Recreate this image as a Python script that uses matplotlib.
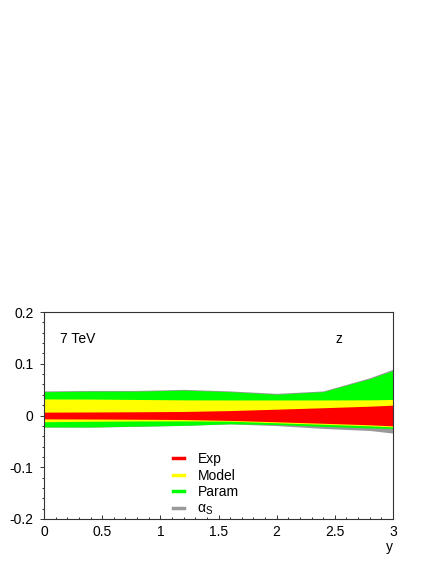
import matplotlib
matplotlib.use("Agg")
import matplotlib.pyplot as plt
from matplotlib.lines import Line2D
from matplotlib.ticker import MultipleLocator
import numpy as np

plt.rcParams["font.family"] = ["Liberation Sans", "DejaVu Sans"]
plt.rcParams["mathtext.fontset"] = "custom"
plt.rcParams["mathtext.rm"] = "Liberation Sans"
plt.rcParams["mathtext.it"] = "Liberation Sans"

# ── band edges vs rapidity y ────────────────────────────────────────────
y_pts = [0.0, 0.4, 0.8, 1.2, 1.6, 2.0, 2.4, 2.8, 3.0]

exp_up = [0.0065, 0.0068, 0.0072, 0.0078, 0.0095, 0.0122, 0.0150, 0.0180, 0.0200]
exp_dn = [-0.0065, -0.0068, -0.0072, -0.0078, -0.0095, -0.0122, -0.0150, -0.0180, -0.0200]

model_up = [0.0320, 0.0318, 0.0310, 0.0302, 0.0300, 0.0300, 0.0300, 0.0302, 0.0310]
model_dn = [-0.0120, -0.0112, -0.0106, -0.0105, -0.0110, -0.0140, -0.0170, -0.0200, -0.0220]

param_up = [0.0460, 0.0470, 0.0470, 0.0490, 0.0460, 0.0410, 0.0460, 0.0710, 0.0870]
param_dn = [-0.0220, -0.0222, -0.0205, -0.0190, -0.0160, -0.0175, -0.0210, -0.0240, -0.0250]

alphas_up = [0.0475, 0.0485, 0.0485, 0.0505, 0.0475, 0.0428, 0.0475, 0.0730, 0.0895]
alphas_dn = [-0.0225, -0.0225, -0.0210, -0.0192, -0.0162, -0.0195, -0.0250, -0.0290, -0.0340]

labels = ["Exp", "Model", "Param", r"α$_\mathrm{S}$"]
colors = ["#ff0000", "#ffff00", "#00ff00", "#999999"]

fig = plt.figure(figsize=(4.36, 5.64), dpi=100)
ax = fig.add_axes([44 / 436, 45 / 564, 349 / 436, 207 / 564])

x = np.array(y_pts)
ax.fill_between(x, alphas_dn, alphas_up, color=colors[3], lw=0)
ax.fill_between(x, param_dn, param_up, color=colors[2], lw=0)
ax.fill_between(x, model_dn, model_up, color=colors[1], lw=0)
ax.fill_between(x, exp_dn, exp_up, color=colors[0], lw=0)

ax.set_xlim(0, 3)
ax.set_ylim(-0.2, 0.2)
ax.xaxis.set_major_locator(MultipleLocator(0.5))
ax.xaxis.set_minor_locator(MultipleLocator(0.1))
ax.yaxis.set_major_locator(MultipleLocator(0.1))
ax.yaxis.set_minor_locator(MultipleLocator(0.02))
ax.xaxis.set_major_formatter(plt.FuncFormatter(lambda v, p: f"{v:g}"))
ax.yaxis.set_major_formatter(plt.FuncFormatter(lambda v, p: f"{v:g}"))

for s in ax.spines.values():
    s.set_linewidth(0.8)
    s.set_color("#333333")
ax.tick_params(axis="x", which="major", direction="in", length=3, width=0.7,
               labelsize=10, pad=4, color="#333333")
ax.tick_params(axis="x", which="minor", direction="in", length=1.6, width=0.7,
               color="#333333")
ax.tick_params(axis="y", which="major", direction="out", length=2.6, width=0.7,
               labelsize=10, pad=5, color="#333333")
ax.tick_params(axis="y", which="minor", direction="out", length=1.2, width=0.7,
               color="#333333")

ax.set_xlabel("y", loc="right", fontsize=10, labelpad=1)

ax.text(0.046, 0.849, "7 TeV", transform=ax.transAxes, fontsize=10, va="baseline")
ax.text(0.834, 0.849, "z", transform=ax.transAxes, fontsize=10, va="baseline")

handles = [Line2D([], [], color=c, lw=2.5) for c in colors]
ax.legend(handles, labels, loc="upper left", bbox_to_anchor=(0.37, 0.325),
          frameon=False, fontsize=10, handlelength=0.75, handletextpad=1.0,
          labelspacing=0.2, borderpad=0, borderaxespad=0)

fig.savefig("out.png", dpi=100)
